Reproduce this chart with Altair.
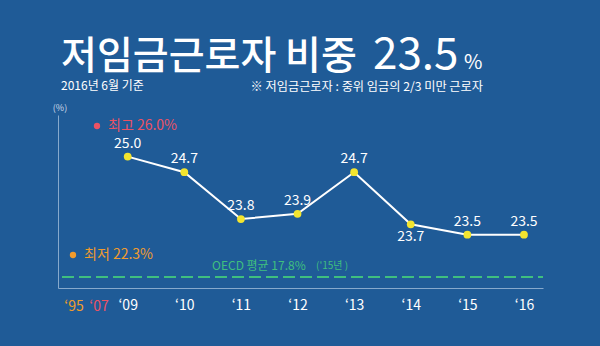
import altair as alt
import pandas as pd

years = [2009, 2010, 2011, 2012, 2013, 2014, 2015, 2016]
values = [25.0, 24.7, 23.8, 23.9, 24.7, 23.7, 23.5, 23.5]
label_below = [False, False, False, False, False, True, False, False]
value_text = ["25.0", "24.7", "23.8", "23.9", "24.7", "23.7", "23.5", "23.5"]

title_main = "저임금근로자 비중"
title_num = "23.5"
title_unit = "%"
subtitle = "2016년 6월 기준"
note = "※ 저임금근로자 : 중위 임금의 2/3 미만 근로자"
high_text = "최고 26.0%"
low_text = "최저 22.3%"
oecd_text = "OECD 평균 17.8%"
oecd_year = "('15년 )"
extra_labels = ["‘95", "‘07"]

BG = "#1f5b97"
FONT = "Noto Sans CJK KR"
RED = "#ec5264"
ORANGE = "#f19b2c"
GREEN = "#3fbf7f"
YELLOW = "#f3e52f"
AXIS = "#86a9cc"

df = pd.DataFrame({"year": years, "value": values, "below": label_below, "label": value_text})
one = pd.DataFrame({"k": [0]})

xs = alt.Scale(domain=[2007.769, 2016.336], nice=False, zero=False)
ys = alt.Scale(domain=[22.475, 25.80], nice=False, zero=False)

base = alt.Chart(df)

line = base.mark_line(color="white", strokeWidth=2).encode(
    x=alt.X("year:Q", scale=xs, title=None,
            axis=alt.Axis(values=years, labelExpr="'‘' + substring(toString(datum.value), 2, 4)",
                          labelColor="white", labelFontSize=14, labelFont=FONT,
                          ticks=False, grid=False, domainColor=AXIS, domainWidth=1,
                          labelPadding=10)),
    y=alt.Y("value:Q", scale=ys, title=None,
            axis=alt.Axis(labels=False, ticks=False, grid=False, domainColor=AXIS, domainWidth=1)),
)
points = base.mark_circle(color=YELLOW, size=60, opacity=1).encode(
    x=alt.X("year:Q", scale=xs), y=alt.Y("value:Q", scale=ys))

lab_above = base.transform_filter("!datum.below").mark_text(
    color="white", fontSize=14, font=FONT, dy=-13).encode(
    x=alt.X("year:Q", scale=xs), y=alt.Y("value:Q", scale=ys), text="label:N")
lab_below = base.transform_filter("datum.below").mark_text(
    color="white", fontSize=14, font=FONT, dy=13).encode(
    x=alt.X("year:Q", scale=xs), y=alt.Y("value:Q", scale=ys), text="label:N")

ann = alt.Chart(one)

def txt(s, x, y, size, color, align="left", baseline="middle", weight="normal"):
    return ann.mark_text(text=s, fontSize=size, color=color, align=align, baseline=baseline,
                         font=FONT, fontWeight=weight).encode(x=alt.value(x), y=alt.value(y))

def dot(x, y, color):
    return ann.mark_circle(color=color, size=40, opacity=1).encode(x=alt.value(x), y=alt.value(y))

oecd_rule = ann.mark_rule(color=GREEN, strokeWidth=2, strokeDash=[12, 5]).encode(
    x=alt.value(4), x2=alt.value(485), y=alt.value(162))

layers = [
    oecd_rule, line, points, lab_above, lab_below,
    txt(title_main, 3, -46, 39, "white", baseline="alphabetic", weight=500),
    txt(title_num, 315, -46, 44, "white", baseline="alphabetic"),
    txt(title_unit, 406, -46, 20, "white", baseline="alphabetic"),
    txt(subtitle, 3, -25, 12, "white", baseline="alphabetic"),
    txt(note, 425, -24, 12.2, "white", align="right", baseline="alphabetic"),
    txt("(%)", 2, -7, 9, "#d0dcea", align="center"),
    dot(39, 11, RED), txt(high_text, 50, 11, 14, RED),
    dot(15, 140, ORANGE), txt(low_text, 26, 140, 14, ORANGE),
    txt(oecd_text, 154, 151, 12, GREEN),
    txt(oecd_year, 258, 151, 10, GREEN),
    txt(extra_labels[0], 16, 192, 14, ORANGE, align="center"),
    txt(extra_labels[1], 41, 192, 14, RED, align="center"),
]

chart = alt.layer(*layers).properties(
    width=485, height=173,
    autosize=alt.AutoSizeParams(type="none"),
    padding={"left": 58, "top": 115, "right": 57, "bottom": 58},
    background=BG,
).configure_view(strokeWidth=0)

chart.save("out.html", embed_options={"renderer": "svg", "actions": False})
